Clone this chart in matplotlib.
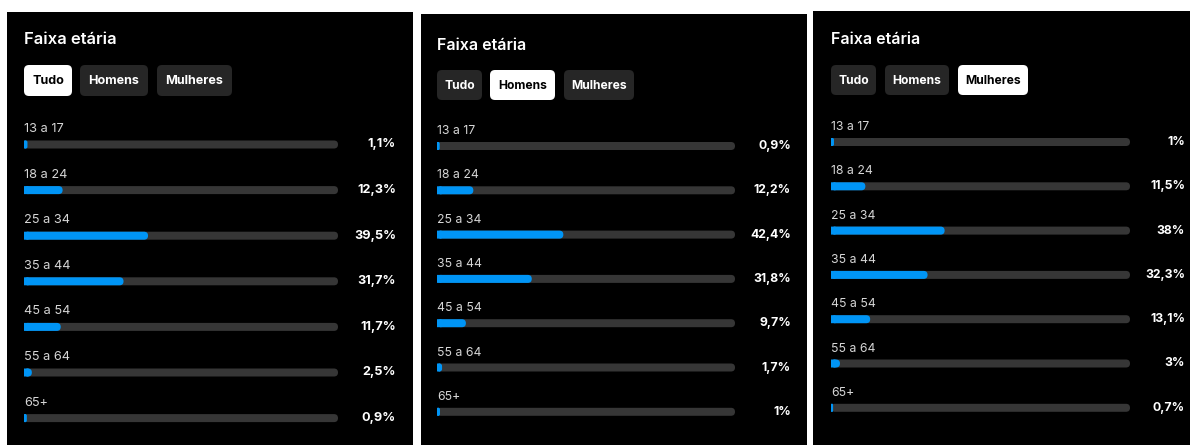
import matplotlib
matplotlib.use("Agg")
import matplotlib.pyplot as plt
from matplotlib.patches import FancyBboxPatch, Rectangle

# Data
age_groups = ["13 a 17", "18 a 24", "25 a 34", "35 a 44", "45 a 54", "55 a 64", "65+"]
tudo = [1.1, 12.3, 39.5, 31.7, 11.7, 2.5, 0.9]
homens = [0.9, 12.2, 42.4, 31.8, 9.7, 1.7, 1.0]
mulheres = [1.0, 11.5, 38.0, 32.3, 13.1, 3.0, 0.7]
tabs = ["Tudo", "Homens", "Mulheres"]
title = "Faixa etária"

series = [tudo, homens, mulheres]

# Colours
BG = "#000000"
TRACK = "#363636"
BLUE = "#0095f6"
BTN_OFF = "#262626"
LABEL_C = "#d6d6d6"

FONT = ["Inter", "DejaVu Sans"]

W, H = 1190, 445

# Layout per panel (absolute pixel positions on the picture)
panels = [
    dict(left=7, right=413, top=12, title_xy=(24, 39), btn_y=(65, 96),
         btn_x=[24, 80, 157], btn_w=[48, 68, 75], x0=24, track=314,
         row0=144.5, gap=45.6, val_x=396, lab_off=15.5, s=1.04),
    dict(left=421, right=807, top=14, title_xy=(437, 45), btn_y=(70, 100),
         btn_x=[437, 490, 564], btn_w=[45, 65, 70], x0=437, track=298,
         row0=146, gap=44.3, val_x=791, lab_off=15, s=1.0),
    dict(left=813, right=1190, top=11, title_xy=(831, 40), btn_y=(65, 95),
         btn_x=[831, 885, 958], btn_w=[45, 64, 70], x0=831, track=299,
         row0=142, gap=44.3, val_x=1185, lab_off=15, s=1.0),
]


def FormatPct(v):
    if float(v).is_integer():
        return "%d%%" % v
    return ("%.1f%%" % v).replace(".", ",")


def Pill(ax, x, yc, w, h, color, z=2):
    r = min(h / 2, w / 2)
    p = FancyBboxPatch((x, yc - h / 2), w, h, boxstyle="round,pad=0,rounding_size=%f" % r,
                       linewidth=0, facecolor=color, zorder=z, snap=False)
    ax.add_patch(p)
    return p


def FillBar(ax, x, yc, w, h, color, z=3):
    # square left end, rounded right end
    Pill(ax, x, yc, w, h, color, z)
    ax.add_patch(Rectangle((x, yc - h / 2), min(w / 2 + 0.5, h / 2 + 0.5), h, linewidth=0,
                           facecolor=color, zorder=z, snap=False))


fig = plt.figure(figsize=(W / 100, H / 100), dpi=100)
fig.patch.set_facecolor("white")

for iPanel, (lay, values) in enumerate(zip(panels, series)):
    pw = lay["right"] - lay["left"]
    ph = H - lay["top"]
    ax = fig.add_axes([lay["left"] / W, 0, pw / W, ph / H])
    ax.set_xlim(lay["left"], lay["right"])
    ax.set_ylim(H, lay["top"])
    ax.axis("off")
    ax.add_patch(Rectangle((lay["left"], lay["top"]), pw, ph, facecolor=BG, zorder=0))
    s = lay["s"]

    # title
    ax.text(lay["title_xy"][0], lay["title_xy"][1], title, color="white", fontsize=11.5 * s,
            fontweight="semibold", family=FONT, ha="left", va="center")

    # tabs
    by0, by1 = lay["btn_y"]
    for iTab, tab in enumerate(tabs):
        sel = iTab == iPanel
        bx, bw = lay["btn_x"][iTab], lay["btn_w"][iTab]
        ax.add_patch(FancyBboxPatch((bx, by0), bw, by1 - by0,
                                    boxstyle="round,pad=0,rounding_size=5",
                                    linewidth=0, facecolor="white" if sel else BTN_OFF, zorder=2))
        ax.text(bx + bw / 2, (by0 + by1) / 2 + 0.5, tab, color="black" if sel else "white",
                fontsize=8.7 * s, fontweight="bold", family=FONT, ha="center", va="center", zorder=3)

    # rows
    for iRow, (grp, v) in enumerate(zip(age_groups, values)):
        yc = lay["row0"] + iRow * lay["gap"]
        ax.text(lay["x0"], yc - lay["lab_off"], grp, color=LABEL_C, fontsize=8.8 * s,
                family=FONT, ha="left", va="center")
        Pill(ax, lay["x0"], yc, lay["track"], 8, TRACK, z=2)
        FillBar(ax, lay["x0"], yc, lay["track"] * v / 100.0, 8, BLUE, z=3)
        ax.text(lay["val_x"], yc, FormatPct(v), color="white", fontsize=8.8 * s,
                fontweight="bold", family=FONT, ha="right", va="center")

fig.savefig("out.png", dpi=100, facecolor=fig.get_facecolor())
